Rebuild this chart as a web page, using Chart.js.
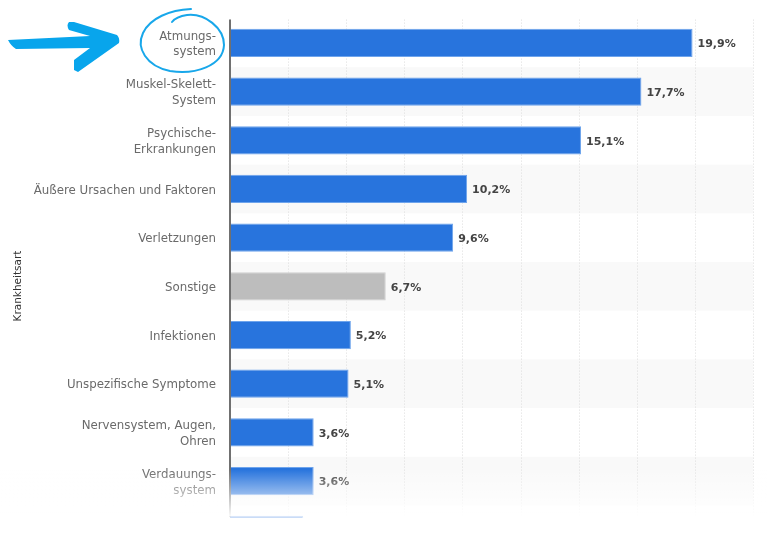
<!DOCTYPE html>
<html><head><meta charset="utf-8">
<script src="https://cdn.jsdelivr.net/npm/chart.js@4"></script>
<style>html,body{margin:0;padding:0;background:#fff;overflow:hidden}
canvas{display:block;filter:blur(0.35px)}</style></head>
<body><canvas id="c" width="768" height="535"></canvas>
<script>
const categories = [["Atmungs-","system"],["Muskel-Skelett-","System"],["Psychische-","Erkrankungen"],"Äußere Ursachen und Faktoren","Verletzungen","Sonstige","Infektionen","Unspezifische Symptome",["Nervensystem, Augen,","Ohren"],["Verdauungs-","system"],""];
const values = [19.9,17.7,15.1,10.2,9.6,6.7,5.2,5.1,3.6,3.6,3.15];
const valueLabels = ["19,9%","17,7%","15,1%","10,2%","9,6%","6,7%","5,2%","5,1%","3,6%","3,6%",""];
const axisTitle = "Krankheitsart";
const blue = "#2874dd", blueEdge = "#6ea4ec", grey = "#bdbdbd", greyEdge = "#cfcfcf";
const FONT = '"DejaVu Sans"';

const decor = {
  id:"decor",
  beforeDatasetsDraw(ch){
    const {ctx,chartArea:a,scales:{x,y}} = ch;
    ctx.save();
    ctx.fillStyle="#f9f9f9";
    const step = y.getPixelForValue(1)-y.getPixelForValue(0);
    for(let i=1;i<10;i+=2){
      const top = y.getPixelForValue(i)-step/2;
      ctx.fillRect(a.left,top,a.right-a.left,step);
    }
    ctx.strokeStyle="#dcdcdc";ctx.setLineDash([1,2]);ctx.lineWidth=1;
    x.ticks.forEach(t=>{
      const px=Math.round(x.getPixelForValue(t.value))+0.5;
      ctx.beginPath();ctx.moveTo(px,a.top+1);ctx.lineTo(px,a.bottom+11);ctx.stroke();
    });
    ctx.restore();
  },
  afterDatasetsDraw(ch){
    const {ctx,chartArea:a} = ch;
    const meta = ch.getDatasetMeta(0);
    ctx.save();
    ctx.font="bold 11px "+FONT;ctx.fillStyle="#444";ctx.textBaseline="middle";ctx.textAlign="left";
    meta.data.forEach((b,i)=>{ if(valueLabels[i]) ctx.fillText(valueLabels[i],b.x+5,b.y+1.5); });
    ctx.strokeStyle="#707070";ctx.lineWidth=2;
    ctx.beginPath();ctx.moveTo(a.left,a.top+1);ctx.lineTo(a.left,a.bottom+11);ctx.stroke();
    ctx.restore();
  },
  afterDraw(ch){
    const {ctx,width,height,chartArea:a} = ch;
    ctx.save();
    // fade-out of the lower edge
    const g = ctx.createLinearGradient(0,a.bottom-36,0,a.bottom+11);
    g.addColorStop(0,"rgba(255,255,255,0)");
    g.addColorStop(1,"rgba(255,255,255,0.97)");
    ctx.fillStyle=g;ctx.fillRect(0,a.bottom-36,width,47);
    ctx.fillStyle="rgba(255,255,255,0.94)";ctx.fillRect(0,a.bottom+11,width,1);
    ctx.fillStyle="#fff";ctx.fillRect(0,a.bottom+12,width,height);
    // axis title
    ctx.save();
    ctx.translate(18,286);ctx.rotate(-Math.PI/2);
    ctx.font="10.5px "+FONT;ctx.fillStyle="#333";ctx.textAlign="center";ctx.textBaseline="middle";
    ctx.fillText(axisTitle,0,0);
    ctx.restore();
    // hand-drawn arrow
    ctx.fillStyle="#08a5ec";
    ctx.beginPath();
    ctx.moveTo(8,40);ctx.lineTo(90,36);ctx.lineTo(69,30);
    ctx.quadraticCurveTo(66,25,69,22);ctx.lineTo(74,22);ctx.lineTo(117,35);
    ctx.quadraticCurveTo(120,38,119,43);ctx.lineTo(78,72);ctx.lineTo(74,70);
    ctx.lineTo(74,60);ctx.lineTo(90,48);ctx.lineTo(16,49);ctx.quadraticCurveTo(11,46,8,40);
    ctx.closePath();ctx.fill();
    // hand-drawn circle
    ctx.strokeStyle="#18a7ea";ctx.lineWidth=2;ctx.lineCap="round";
    ctx.beginPath();
    ctx.moveTo(191,9);
    ctx.bezierCurveTo(170,10,150,18,143,33);
    ctx.bezierCurveTo(136,48,146,66,170,71);
    ctx.bezierCurveTo(195,75,223,66,224,45);
    ctx.bezierCurveTo(224,28,205,13,187,15);
    ctx.bezierCurveTo(180,16,175,18,172,22);
    ctx.stroke();
    ctx.restore();
  }
};

new Chart(document.getElementById("c"),{
  type:"bar",
  data:{labels:categories,datasets:[{
    data:values,
    backgroundColor:c=>categories[c.dataIndex]==="Sonstige"?grey:blue,
    borderColor:c=>categories[c.dataIndex]==="Sonstige"?greyEdge:blueEdge,
    borderWidth:1,barPercentage:0.58,categoryPercentage:1,clip:false
  }]},
  options:{
    indexAxis:"y",responsive:false,animation:false,
    devicePixelRatio:1,
    layout:{padding:{top:18.6,right:15,bottom:29.6,left:0}},
    plugins:{legend:{display:false},tooltip:{enabled:false}},
    scales:{
      x:{min:0,max:22.5,ticks:{display:false,stepSize:2.5},grid:{display:false,drawTicks:false},border:{display:false}},
      y:{max:9,
        afterFit(s){s.width=230;s.paddingTop=0;s.paddingBottom=0;},
        grid:{display:false,drawTicks:false},border:{display:false},
        ticks:{padding:14,labelOffset:1.5,color:"#6a6a6a",autoSkip:false,font:{family:FONT,size:11.8,lineHeight:1.35}}}
    }
  },
  plugins:[decor]
});
</script>
</body></html>
